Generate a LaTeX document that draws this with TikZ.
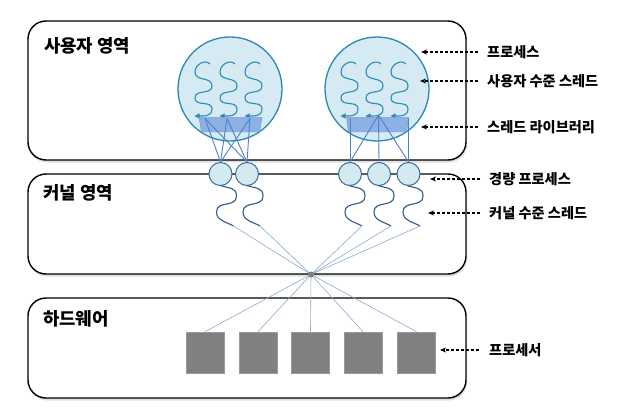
\documentclass[tikz,border=0pt]{standalone}
\usepackage{fontspec}
\setmainfont{Noto Sans CJK KR}
\usetikzlibrary{arrows.meta,shadows}
\definecolor{procfill}{HTML}{D5EAF2}
\definecolor{procdraw}{HTML}{2B88B5}
\definecolor{uthcol}{HTML}{2A8DB5}
\definecolor{libfill}{HTML}{8DB1E4}
\definecolor{libdraw}{HTML}{7A9FD8}
\definecolor{mapcol}{HTML}{4F81C7}
\definecolor{lwpfill}{HTML}{D3EAF0}
\definecolor{lwpdraw}{HTML}{3A6D9A}
\definecolor{kthcol}{HTML}{2F5B8A}
\definecolor{thincol}{HTML}{8EA9CC}
\definecolor{cpufill}{HTML}{808080}
\definecolor{cpudraw}{HTML}{9A9A9A}
\tikzset{
  regionbox/.style={draw=black, line width=1.4pt, rounded corners=18pt, fill=white,
    drop shadow={opacity=0.25, shadow xshift=1pt, shadow yshift=-2.5pt}},
  regionlab/.style={font=\fontsize{17.8}{20}\selectfont\bfseries, anchor=north west, inner sep=0pt},
  rlab/.style={font=\fontsize{14.2}{16}\selectfont\bfseries, anchor=west, inner sep=0pt},
  dasharr/.style={draw=black, line width=1.1pt, dash pattern=on 3pt off 2pt, -{Stealth[length=6pt,width=5pt]}},
  procc/.style={circle, draw=procdraw, fill=procfill, line width=1.3pt, minimum size=104pt, inner sep=0pt},
  uth/.style={draw=uthcol, line width=1.1pt, -{Triangle[length=5pt,width=5pt]}},
  libbox/.style={draw=libdraw, fill=libfill, line width=0.6pt},
  mapline/.style={draw=mapcol, line width=0.9pt},
  lwp/.style={circle, draw=lwpdraw, fill=lwpfill, line width=1pt, minimum size=23pt, inner sep=0pt},
  kth/.style={draw=kthcol, line width=1.1pt},
  thin/.style={draw=thincol, line width=0.6pt},
  cpu/.style={rectangle, draw=cpudraw, fill=cpufill, line width=0.6pt, minimum width=38pt, minimum height=41pt, inner sep=0pt},
}
\newcommand\uthr[1]{\draw[uth] (#1+15,64) to[out=135,in=90,looseness=1.1] (#1,72) to[out=-90,in=90,looseness=1.15] (#1+17,86) to[out=-90,in=90,looseness=1.15] (#1,98) to[out=-90,in=90,looseness=1.15] (#1+17,109) to[out=-90,in=0,looseness=1.1] (#1-0.5,116);}
\newcommand\kthr[2]{\draw[kth] (#1,185.5) to[out=-20,in=90,looseness=1.2] (#1+16,196) to[out=-90,in=90,looseness=1.2] (#1-4,212) to[out=-90,in=150] (#1+13,226) coordinate (#2);}
\begin{document}
\begin{tikzpicture}[x=1pt,y=-1pt]
\useasboundingbox (0,0) rectangle (629,412);
% region boxes
\path[regionbox] (28,21) rectangle (466,160);
\path[regionbox] (28,174) rectangle (466,274);
\path[regionbox] (28,298) rectangle (466,398);
\node[regionlab] (ulab) at (44,37) {사용자 영역};
\node[regionlab] (klab) at (43,184.5) {커널 영역};
\node[regionlab] (hlab) at (43,310.5) {하드웨어};

% processors
\node[cpu] (p1) at (205,352.5) {};
\node[cpu] (p2) at (258,352.5) {};
\node[cpu] (p3) at (310.5,352.5) {};
\node[cpu] (p4) at (363,352.5) {};
\node[cpu] (p5) at (416.5,352.5) {};

% LWPs
\node[lwp] (l1) at (220.5,174) {};
\node[lwp] (l2) at (247,174) {};
\node[lwp] (l3) at (350,174) {};
\node[lwp] (l4) at (379,174) {};
\node[lwp] (l5) at (408.5,174) {};

% kernel threads
\kthr{220.5}{k1}
\kthr{247}{k2}
\kthr{349}{k3}
\kthr{378}{k4}
\kthr{407}{k5}

\coordinate (conv) at (311,274.5);
\foreach \k in {k1,k2,k3,k4,k5} \draw[thin] (\k) -- (conv);
\foreach \p in {p1,p2,p3,p4,p5} \draw[thin] (conv) -- (\p.north);
\fill[gray] (conv) circle (3pt);

% processes
\node[procc] (pr1) at (230,89) {};
\node[procc] (pr2) at (377,89) {};
\uthr{195}
\uthr{220}
\uthr{245}
\uthr{341}
\uthr{366}
\uthr{391}

% thread libraries
\path[libbox] (199,117.3) -- (262,117.3) -- (259.5,131.7) -- (201.5,131.7) -- cycle;
\path[libbox] (346.7,117.3) -- (408.3,117.3) -- (406.7,131.7) -- (348.3,131.7) -- cycle;

% mapping lines
\coordinate (a1) at (205,118.5);
\coordinate (a2) at (227,118.5);
\coordinate (a3) at (250,118.5);
\foreach \a in {a1,a2,a3} {\draw[mapline] (\a) -- (l1.north); \draw[mapline] (\a) -- (l2.north);}
\coordinate (b1) at (350,118);
\coordinate (b2) at (378.5,115);
\coordinate (b3) at (408.5,118);
\draw[mapline] (b1) -- (l3.north);
\draw[mapline] (b3) -- (l5.north);
\draw[mapline] (b2) -- (l3.north);
\draw[mapline] (b2) -- (l4.north);
\draw[mapline] (b2) -- (l5.north);

% right labels
\node[rlab] (t1) at (487,52) {프로세스};
\node[rlab] (t2) at (487,81) {사용자 수준 스레드};
\node[rlab] (t3) at (487,127) {스레드 라이브러리};
\node[rlab] (t4) at (489,179) {경량 프로세스};
\node[rlab] (t5) at (489,213) {커널 수준 스레드};
\node[rlab] (t6) at (489,350) {프로세서};
\coordinate (e1) at (421,52);
\coordinate (e2) at (420,81);
\coordinate (e3) at (421,127);
\coordinate (e4) at (430,179);
\coordinate (e5) at (428,213);
\coordinate (e6) at (440,350);
\draw[dasharr] ([xshift=-9pt]t1.west) -- (e1);
\draw[dasharr] ([xshift=-9pt]t2.west) -- (e2);
\draw[dasharr] ([xshift=-9pt]t3.west) -- (e3);
\draw[dasharr] ([xshift=-9pt]t4.west) -- (e4);
\draw[dasharr] ([xshift=-9pt]t5.west) -- (e5);
\draw[dasharr] ([xshift=-10pt]t6.west) -- (e6);
\end{tikzpicture}
\end{document}
